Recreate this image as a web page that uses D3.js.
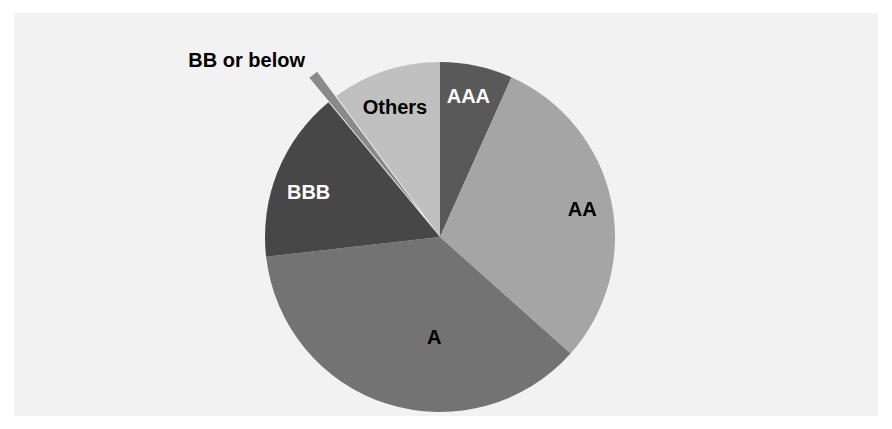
<!DOCTYPE html>
<html>
<head>
<meta charset="utf-8">
<script src="https://cdn.jsdelivr.net/npm/d3@7"></script>
<style>
  html, body { margin: 0; padding: 0; background: #ffffff; }
  svg { display: block; }
</style>
</head>
<body>
<svg id="chart" width="892" height="429"></svg>
<script>
// ---- data ----
const categories = ["AAA", "AA", "A", "BBB", "BB or below", "Others"];
const values = [6.7, 29.9, 36.6, 15.8, 0.9, 10.1];
const exploded = ["BB or below"];

// ---- styles / layout (not data) ----
const colors = {
  "AAA": "#595959",
  "AA": "#a5a5a5",
  "A": "#737373",
  "BBB": "#474747",
  "BB or below": "#8a8a8a",
  "Others": "#c0c0c0"
};
const textColors = {
  "AAA": "#ffffff", "AA": "#000000", "A": "#000000",
  "BBB": "#ffffff", "BB or below": "#000000", "Others": "#000000"
};
// label placement: radius and angle offset (radians) from slice mid-angle
const labelLayout = {
  "AAA": { r: 144, da: -0.012 },
  "AA": { r: 145, da: 0.016 },
  "A": { r: 100, da: -0.25 },
  "BBB": { r: 139, da: -0.05 },
  "BB or below": { r: 262, da: -0.167 },
  "Others": { r: 138, da: -0.015 }
};

const W = 892, H = 429;
const svg = d3.select("#chart");

// panel
svg.append("rect").attr("x", 14).attr("y", 13)
  .attr("width", W - 28).attr("height", H - 26)
  .attr("fill", "#f2f2f2");

const cx = 440, cy = 237, R = 175, explodeDist = 31;

const pie = d3.pie().sort(null).value(d => d.v);
const data = categories.map((c, i) => ({ c, v: values[i] }));
const arcs = pie(data);
const arc = d3.arc().innerRadius(0).outerRadius(R);

const g = svg.append("g").attr("transform", `translate(${cx},${cy})`);

g.selectAll("path.slice").data(arcs).enter().append("path")
  .attr("class", "slice")
  .attr("d", arc)
  .attr("fill", d => colors[d.data.c])
  .attr("transform", d => {
    if (!exploded.includes(d.data.c)) return null;
    const a = (d.startAngle + d.endAngle) / 2;
    return `translate(${Math.sin(a) * explodeDist},${-Math.cos(a) * explodeDist})`;
  });

g.selectAll("text.lbl").data(arcs).enter().append("text")
  .attr("class", "lbl")
  .attr("x", d => {
    const L = labelLayout[d.data.c];
    const a = (d.startAngle + d.endAngle) / 2 + L.da;
    return Math.sin(a) * L.r;
  })
  .attr("y", d => {
    const L = labelLayout[d.data.c];
    const a = (d.startAngle + d.endAngle) / 2 + L.da;
    return -Math.cos(a) * L.r;
  })
  .attr("dy", "0.35em")
  .attr("text-anchor", "middle")
  .attr("font-family", "'Liberation Sans', Arial, sans-serif")
  .attr("font-weight", "bold")
  .attr("font-size", "20px")
  .attr("fill", d => textColors[d.data.c])
  .text(d => d.data.c);
</script>
</body>
</html>
